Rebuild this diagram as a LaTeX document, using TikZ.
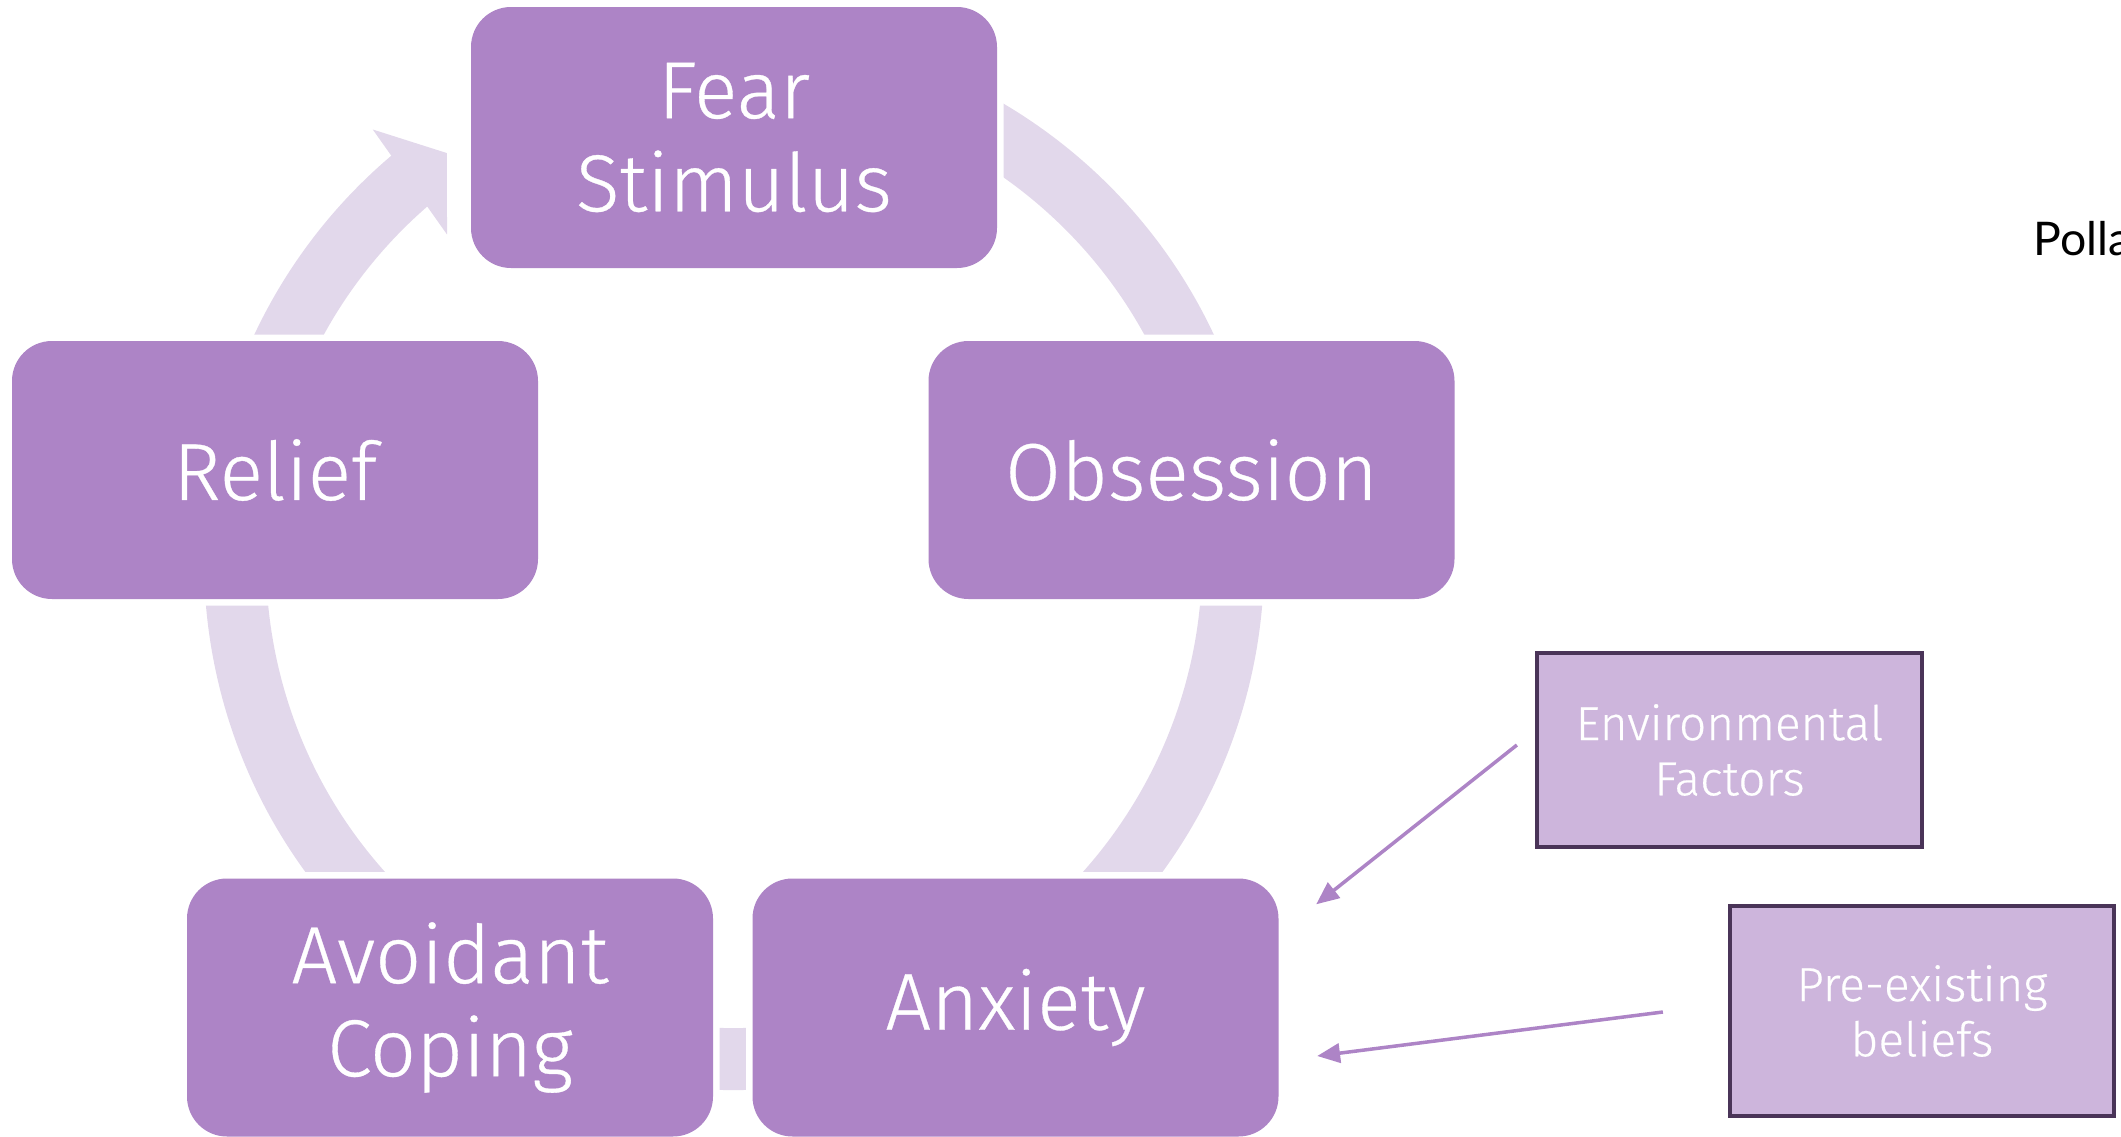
\documentclass[tikz,border=0pt]{standalone}
\usepackage{fontspec}
\setmainfont{Fira Sans Light}[FakeBold=0.4]
\newfontfamily\notefont{Lato}
\usetikzlibrary{arrows.meta}

\definecolor{boxpurple}{HTML}{AD84C6}
\definecolor{ringlilac}{HTML}{E2D8EB}
\definecolor{factorfill}{HTML}{CDB5DC}
\definecolor{factorline}{HTML}{4A3458}

\tikzset{
  cyclebox/.style={rounded corners=0.4cm, fill=boxpurple,
    preaction={draw=white, line width=0.13cm},
    minimum width=5.26cm, minimum height=2.58cm, inner sep=0pt,
    align=center, text=white, font=\fontsize{23}{26.5}\selectfont},
  factorbox/.style={draw=factorline, line width=1.2pt, fill=factorfill,
    minimum width=3.85cm, inner sep=0pt, align=center, text=white,
    font=\fontsize{13.6}{15.7}\selectfont},
  ring/.style={draw=ringlilac, line width=0.62cm},
  influence/.style={draw=boxpurple, line width=1pt,
    -{Triangle[length=6.5pt,width=5.5pt]}},
}

\begin{document}
\begin{tikzpicture}
    \useasboundingbox (0,0) rectangle (21.21,11.36);
    \coordinate (c) at (7.34,5.76);

    % ring behind the cycle
    \draw[ring] (c) ++(100:4.99) arc[start angle=100, end angle=-230, radius=4.99];
    \fill[ringlilac] ([shift={(130:5.62)}]c) -- ([shift={(125.2:4.98)}]c)
        -- ([shift={(131.4:4.34)}]c) -- cycle;

    \node[cyclebox, minimum height=2.61cm] (fear) at (7.34,9.985) {Fear\\Stimulus};
    \node[cyclebox] (obs) at (11.915,6.66) {Obsession};
    \node[cyclebox] (anx) at (10.155,1.285) {Anxiety};
    \node[cyclebox] (avoid) at (4.50,1.285) {Avoidant\\Coping};
    \node[cyclebox] (relief) at (2.75,6.66) {Relief};

    \node[factorbox, minimum height=1.94cm] (env) at (17.295,3.86) {Environmental\\Factors};
    \node[factorbox, minimum height=2.10cm, minimum width=3.84cm] (pre) at (19.22,1.25) {Pre-existing\\beliefs};
    %
    \draw[influence] ([xshift=-0.18cm,yshift=0.05cm]env.west) -- ([xshift=0.37cm,yshift=-0.265cm]anx.north east);
    \draw[influence] ([xshift=-0.65cm,yshift=-0.01cm]pre.west) -- ([xshift=0.38cm,yshift=-0.485cm]anx.east);

    \node[anchor=base west, inner sep=0pt, font=\notefont\fontsize{13.2}{15}\selectfont] (note) at (20.33,8.81) {Polla};
\end{tikzpicture}
\end{document}
